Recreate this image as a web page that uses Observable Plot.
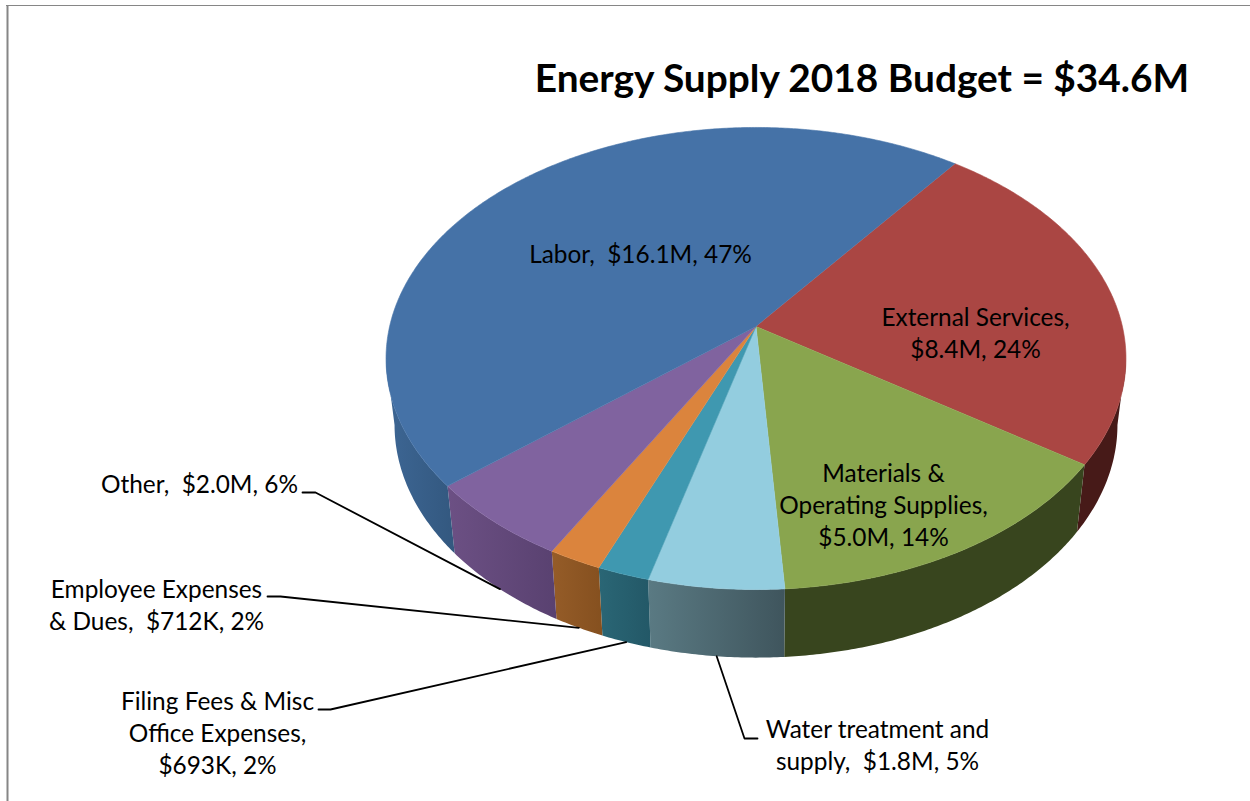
<!DOCTYPE html>
<html>
<head>
<meta charset="utf-8">
<script src="https://cdn.jsdelivr.net/npm/d3@7"></script>
<script src="https://cdn.jsdelivr.net/npm/@observablehq/plot@0.6"></script>
<style>
html,body{margin:0;padding:0;background:#fff}
svg{display:block}
</style>
</head>
<body>
<div id="chart"></div>
<script>
// ---- data ----
const categories = ["External Services","Materials & Operating Supplies","Water treatment and supply","Filing Fees & Misc Office Expenses","Employee Expenses & Dues","Other","Labor"];
const budgets    = [8.4, 5.0, 1.8, 0.693, 0.712, 2.0, 16.1];
const labelLines = [
  "External Services,\n$8.4M, 24%",
  "Materials &\nOperating Supplies,\n$5.0M, 14%",
  "Water treatment and\nsupply,\u00a0 $1.8M, 5%",
  "Filing Fees & Misc\nOffice Expenses,\n$693K, 2%",
  "Employee Expenses\n& Dues,\u00a0 $712K, 2%",
  "Other,\u00a0 $2.0M, 6%",
  "Labor,\u00a0 $16.1M, 47%"
];
const chartTitle = "Energy Supply 2018 Budget = $34.6M";
const topColors   = ["#AA4643","#89A54E","#93CDDF","#3F98B0","#DB843D","#80639F","#4572A7"];
const sideLeft    = ["#471A18","#38451E","#5A7A83","#2A6675","#955C28","#6C5084","#3D6694"];
const sideRight   = ["#471A18","#38451E","#3F555D","#235867","#85501F","#594170","#33587F"];

// ---- layout of the tilted pie (perspective of a unit disc) ----
const W = 1250, H = 801;
const cx = 755.5, cy = 326, A = 366.4, B = 226.6, K = 0.1385;
const startAngle = 37.1;
const baseCy = 392, baseSx = 0.977, baseSy = 1.008;
const rimFrom = 98, rimTo = 262; // silhouette of the disc: the rim shows between these
const rad = d => d * Math.PI / 180;
function project(deg, r = 1) {
  const X = r * Math.sin(rad(deg)), Y = r * Math.cos(rad(deg)), w = 1 + K * Y;
  return {x: cx + A * X / w, y: cy - B * Y / w};
}
function projectBase(deg) {
  const p = project(deg);
  return {x: cx + baseSx * (p.x - cx), y: baseCy + baseSy * (p.y - cy)};
}
const total = d3.sum(budgets);
let acc = startAngle;
const slices = budgets.map((v, i) => {
  const a0 = acc, a1 = acc + v / total * 360;
  acc = a1;
  return {i, a0, a1, mid: (a0 + a1) / 2};
});
const arc = (a0, a1, f) => {
  const n = Math.max(2, Math.ceil((a1 - a0) * 2));
  return d3.range(n + 1).map(k => f(a0 + (a1 - a0) * k / n));
};
const topPoly = s => [{x: cx, y: cy}, ...arc(s.a0, s.a1, d => project(d))];
function sidePoly(s) {
  const a0 = Math.max(s.a0, rimFrom), a1 = Math.min(s.a1, rimTo);
  if (a1 <= a0) return null;
  return [...arc(a0, a1, d => project(d)), ...arc(a0, a1, projectBase).reverse()];
}

// ---- label placement ----
const labelAt = [
  {x: 975, y: 331}, {x: 883, y: 503}, {x: 877, y: 743},
  {x: 217, y: 731}, {x: 156, y: 603}, {x: 199, y: 482}, {x: 640, y: 252}
];
const elbows = [
  null, null,
  [{x: 757, y: 738}, {x: 744, y: 738}],
  [{x: 318, y: 709}, {x: 330, y: 709}],
  [{x: 267, y: 596}, {x: 280, y: 596}],
  [{x: 302, y: 492}, {x: 315, y: 492}],
  null
];
const leaders = slices.flatMap(s => elbows[s.i] ? [...elbows[s.i], projectBase(s.mid)].map(p => ({...p, key: s.i})) : []);
const labels = slices.map(s => ({...labelAt[s.i], text: labelLines[s.i], name: categories[s.i]}));

// ---- gradients for the shaded rim ----
function gradients() {
  const defs = d3.create("svg:defs");
  slices.forEach(s => {
    const g = defs.append("linearGradient").attr("id", "side" + s.i);
    g.append("stop").attr("offset", "0%").attr("stop-color", sideLeft[s.i]);
    g.append("stop").attr("offset", "100%").attr("stop-color", sideRight[s.i]);
  });
  return defs.node();
}

const sideMarks = slices.filter(s => sidePoly(s)).map(s =>
  Plot.line(sidePoly(s), {x: "x", y: "y", fill: `url(#side${s.i})`, stroke: "none"}));
const topMarks = slices.map(s =>
  Plot.line(topPoly(s), {x: "x", y: "y", fill: topColors[s.i], stroke: topColors[s.i], strokeWidth: 0.6}));

const plot = Plot.plot({
  width: W, height: H,
  margin: 0,
  x: {domain: [0, W], range: [0, W], axis: null},
  y: {domain: [0, H], range: [0, H], axis: null},
  style: {fontFamily: "Lato, 'Noto Sans', sans-serif", background: "#fff", color: "#000"},
  marks: [
    gradients,
    Plot.ruleX([7], {y1: 5, y2: H, stroke: "#868686", strokeWidth: 2}),
    Plot.ruleY([5], {x1: 6, x2: W, stroke: "#868686", strokeWidth: 1}),
    ...sideMarks,
    ...topMarks,
    Plot.line(leaders, {x: "x", y: "y", z: "key", stroke: "#000", strokeWidth: 1.8}),
    Plot.text(labels, {x: "x", y: "y", text: "text", fontSize: 24.4, lineHeight: 1.31, fill: "#000", textAnchor: "middle", title: "name"}),
    Plot.text([chartTitle], {x: 861.5, y: 79, text: d => d, fontSize: 38.8, fontWeight: 700, fill: "#000", textAnchor: "middle"})
  ]
});
document.getElementById("chart").appendChild(plot);
</script>
</body>
</html>
